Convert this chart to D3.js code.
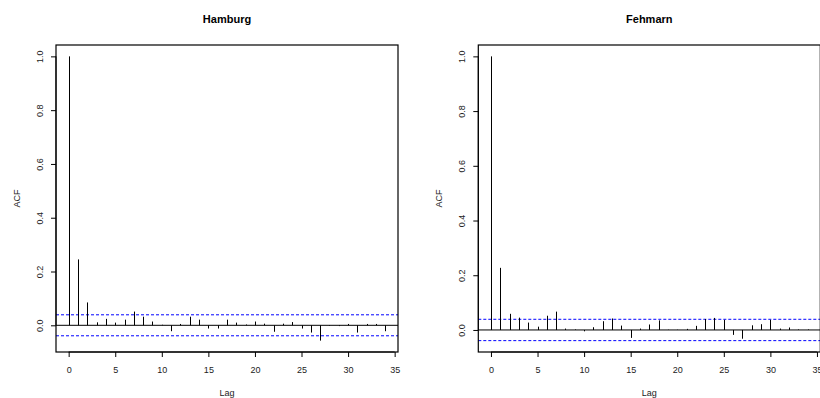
<!DOCTYPE html>
<html>
<head>
<meta charset="utf-8">
<script src="https://cdn.jsdelivr.net/npm/d3@7"></script>
<style>
  body { margin: 0; background: #fff; }
  svg { display: block; font-family: "Liberation Sans", Arial, Helvetica, sans-serif; }
</style>
</head>
<body>
<svg id="chart" width="820" height="398"></svg>
<script>
// --- Data ---
const lags = d3.range(0, 35); // 0..34
const hamburgAcf = [1.0, 0.245, 0.085, 0.011, 0.024, 0.010, 0.021, 0.051, 0.032, 0.014,
  0.002, -0.022, 0.005, 0.032, 0.021, -0.012, -0.012, 0.021, 0.010, 0.003,
  0.014, 0.006, -0.024, 0.006, 0.012, -0.012, -0.027, -0.057, -0.002, -0.003,
  0.005, -0.027, 0.005, 0.005, -0.022];
const fehmarnAcf = [1.0, 0.227, 0.059, 0.045, 0.027, 0.012, 0.052, 0.067, 0.005, 0.002,
  -0.005, 0.010, 0.032, 0.042, 0.016, -0.029, 0.005, 0.020, 0.035, 0.001,
  0.001, 0.004, 0.015, 0.040, 0.044, 0.037, -0.018, -0.032, 0.017, 0.021,
  0.037, 0.005, 0.009, 0.002, 0.002];
const ciBounds = [0.039, 0.039];
const panelTitles = ['Hamburg', 'Fehmarn'];
const xTicks = [0, 5, 10, 15, 20, 25, 30, 35];
const yTicks = [0, 0.2, 0.4, 0.6, 0.8, 1.0];

const svg = d3.select('#chart');

// Plot boxes (R par layout, right panel cut by the figure edge)
const boxes = [
  { left: 56,    right: 398,   top: 45, bottom: 352 },
  { left: 478.3, right: 820.3, top: 45, bottom: 352 },
];
const series = [hamburgAcf, fehmarnAcf];

function drawPanel(i) {
  const b = boxes[i];
  const acf = series[i];
  const ci = ciBounds[i];
  const g = svg.append('g');

  // R style 4% axis extension
  const xr = [0, d3.max(lags)];
  const xPad = (xr[1] - xr[0]) * 0.04;
  const x = d3.scaleLinear().domain([xr[0] - xPad, xr[1] + xPad]).range([b.left, b.right]);

  const ymin = Math.min(d3.min(acf), -ci);
  const ymax = 1;
  const yPad = (ymax - ymin) * 0.04;
  const y = d3.scaleLinear().domain([ymin - yPad, ymax + yPad]).range([b.bottom, b.top]);

  // zero line
  g.append('line')
    .attr('x1', b.left).attr('x2', b.right)
    .attr('y1', y(0)).attr('y2', y(0))
    .attr('stroke', '#000').attr('stroke-width', 1);

  // confidence bounds
  [ci, -ci].forEach(v => {
    g.append('line')
      .attr('x1', b.left).attr('x2', b.right)
      .attr('y1', y(v)).attr('y2', y(v))
      .attr('stroke', '#0000ff').attr('stroke-width', 1)
      .attr('stroke-dasharray', '3,2');
  });

  // spikes
  g.selectAll('line.spike')
    .data(lags)
    .join('line')
    .attr('class', 'spike')
    .attr('x1', d => Math.round(x(d)) + 0.5).attr('x2', d => Math.round(x(d)) + 0.5)
    .attr('y1', y(0))
    .attr('y2', d => y(acf[d]))
    .attr('stroke', '#000').attr('stroke-width', 1);

  // box
  g.append('rect')
    .attr('x', b.left).attr('y', b.top)
    .attr('width', b.right - b.left).attr('height', b.bottom - b.top)
    .attr('fill', 'none').attr('stroke', '#000').attr('stroke-width', 1.2);

  // x axis
  const xa = g.append('g')
    .attr('transform', `translate(0,${b.bottom})`)
    .call(d3.axisBottom(x).tickValues(xTicks).tickSize(5).tickPadding(10).tickFormat(d3.format('d')));
  xa.select('.domain')
    .attr('d', `M${x(xTicks[0])},0H${x(xTicks[xTicks.length - 1])}`);
  xa.selectAll('text').attr('font-size', 9).attr('fill', '#222')
    .attr('font-family', '"Liberation Sans", Arial, sans-serif');

  // y axis (labels parallel to axis)
  const ya = g.append('g')
    .attr('transform', `translate(${b.left},0)`)
    .call(d3.axisLeft(y).tickValues(yTicks).tickSize(5).tickFormat(d3.format('.1f')));
  ya.select('.domain')
    .attr('d', `M0,${y(yTicks[0])}V${y(yTicks[yTicks.length - 1])}`);
  ya.selectAll('text')
    .attr('x', null).attr('dy', '0.35em')
    .attr('transform', 'translate(-16,0) rotate(-90)')
    .attr('text-anchor', 'middle')
    .attr('font-size', 9).attr('fill', '#222')
    .attr('font-family', '"Liberation Sans", Arial, sans-serif');

  // titles and axis labels
  const cx = (b.left + b.right) / 2;
  g.append('text')
    .attr('x', cx).attr('y', 23)
    .attr('text-anchor', 'middle')
    .attr('font-size', 11).attr('font-weight', 'bold')
    .text(panelTitles[i]);

  g.append('text')
    .attr('x', cx).attr('y', 396)
    .attr('text-anchor', 'middle')
    .attr('font-size', 9).attr('fill', '#222')
    .text('Lag');

  g.append('text')
    .attr('transform', `translate(${b.left - 39},${(b.top + b.bottom) / 2}) rotate(-90)`)
    .attr('dy', '0.35em')
    .attr('text-anchor', 'middle')
    .attr('font-size', 9).attr('fill', '#222')
    .text('ACF');
}

drawPanel(0);
drawPanel(1);
</script>
</body>
</html>
